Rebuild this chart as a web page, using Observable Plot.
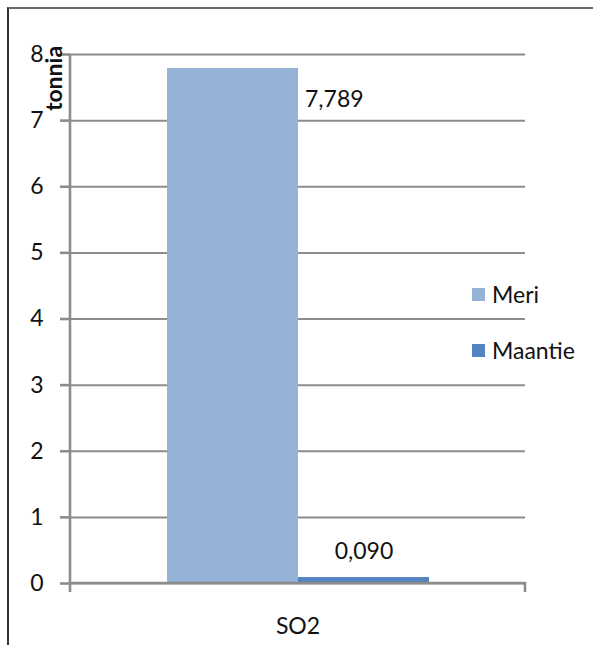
<!DOCTYPE html>
<html>
<head>
<meta charset="utf-8">
<script src="https://cdn.jsdelivr.net/npm/d3@7"></script>
<script src="https://cdn.jsdelivr.net/npm/@observablehq/plot@0.6"></script>
<style>
  html, body { margin: 0; padding: 0; background: #fff; }
  #wrap { position: relative; width: 593px; height: 645px; overflow: hidden; font-family: Lato, sans-serif; }
  #frame { position: absolute; left: 7px; top: 7px; width: 700px; height: 700px;
           border-left: 2px solid #333; border-top: 2px solid #6a6a6a; box-sizing: border-box; }
  #chart { position: absolute; left: 0; top: 0; }
  #legend { position: absolute; left: 472px; top: 280px; font-size: 23px; color: #111; }
  .item { position: absolute; left: 0; white-space: nowrap; display: flex; align-items: center; }
  .sw { width: 13px; height: 13px; margin-right: 7px; }
</style>
</head>
<body>
<div id="wrap">
  <div id="frame"></div>
  <div id="chart"></div>
  <div id="legend"></div>
</div>
<script>
const categories = ["SO2"];
const series = ["Meri", "Maantie"];
const values = [7.789, 0.090];
const valueLabels = ["7,789", "0,090"];
const yTicks = [0, 1, 2, 3, 4, 5, 6, 7, 8];
const yLabel = "tonnia";
const colors = ["#95b3d7", "#5383c0"];

const data = series.map((s, i) => ({ category: categories[0], series: s, value: values[i], label: valueLabels[i] }));

const axisLines = (index, scales, values, dims) => {
  const g = d3.create("svg:g");
  const l = dims.marginLeft, r = dims.width - dims.marginRight;
  const y0 = scales.y(0), yTop = scales.y(8);
  g.append("path")
    .attr("d", `M${l},${yTop}V${y0 + 9}M${l},${y0}H${r}V${y0 + 9}`)
    .attr("fill", "none")
    .attr("stroke", "#8c8c8c")
    .attr("stroke-width", 2.6);
  return g.node();
};

const chart = Plot.plot({
  width: 593,
  height: 645,
  marginLeft: 70,
  marginRight: 68,
  marginTop: 54,
  marginBottom: 62,
  style: { fontFamily: "Lato, sans-serif", fontSize: "23px", color: "#111", background: "transparent", overflow: "visible" },
  fx: { domain: categories, padding: 0, label: null, axis: null },
  x: { domain: series, paddingInner: 0, paddingOuter: 0.73, axis: null },
  y: { domain: [0, 8], ticks: yTicks, label: null },
  color: { domain: series, range: colors },
  marks: [
    Plot.ruleY(yTicks, { y: d => d, stroke: "#8c8c8c", strokeWidth: 2 }),
    Plot.barY(data, { fx: "category", x: "series", y: "value", fill: "series" }),
    Plot.text(data.filter(d => d.series === "Meri"), { fx: "category", x: "series", y: "value", text: "label", textAnchor: "start", dx: 72, dy: 31, fill: "#111" }),
    Plot.text(data.filter(d => d.series === "Maantie"), { fx: "category", x: "series", y: "value", text: "label", dy: -26, fill: "#111" }),
    Plot.axisY({ ticks: yTicks, tickSize: 10, tickPadding: 17, tickFormat: d => String(d), stroke: "#8c8c8c", strokeWidth: 2.6, label: null }),
    Plot.axisFx({ anchor: "bottom", tickSize: 0, tickPadding: 34, label: null }),
    Plot.text([yLabel], { frameAnchor: "top-left", text: d => d, rotate: -90, textAnchor: "middle", lineAnchor: "middle", dx: -16, dy: 24, fontWeight: "bold", fill: "#111" }),
    axisLines
  ]
});
document.getElementById("chart").appendChild(chart);

const legend = document.getElementById("legend");
series.forEach((s, i) => {
  const item = document.createElement("div");
  item.className = "item";
  item.style.top = (i * 56) + "px";
  const sw = document.createElement("span");
  sw.className = "sw";
  sw.style.background = colors[i];
  const t = document.createElement("span");
  t.textContent = s;
  item.appendChild(sw);
  item.appendChild(t);
  legend.appendChild(item);
});
</script>
</body>
</html>
